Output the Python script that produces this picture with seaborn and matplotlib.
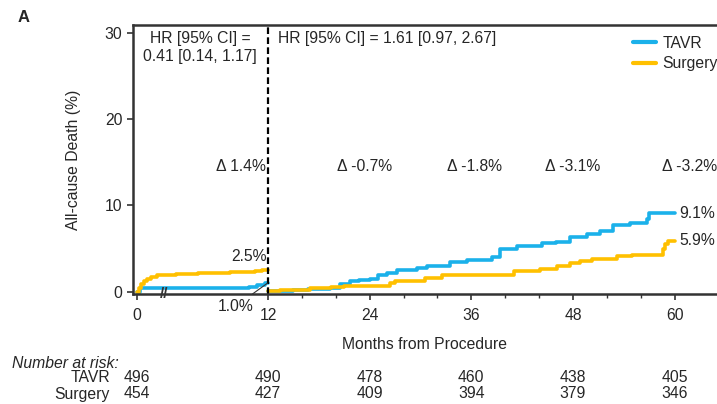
import numpy as np
import pandas as pd
import matplotlib
matplotlib.use("Agg")
import matplotlib.pyplot as plt
import matplotlib.transforms as mtransforms
from matplotlib.lines import Line2D
import seaborn as sns

# ---------------- data ----------------
tavr_early_t = [0, 0.3, 9.7, 10.3, 11.0, 11.7, 12]
tavr_early_v = [0, 0.4, 0.4, 0.6, 0.8, 1.0, 1.0]
surg_early_t = [0, 0.15, 0.35, 0.6, 0.9, 1.3, 1.8, 2.7, 3.6, 5.6, 8.5, 10.8, 11.5, 12]
surg_early_v = [0, 0.5, 0.9, 1.2, 1.5, 1.7, 1.9, 2.0, 2.1, 2.2, 2.3, 2.4, 2.5, 2.5]

tavr_late_t = [12, 14.9, 16.7, 19.3, 20.5, 21.7, 22.8, 24, 25, 26, 27.2, 29.6, 30.8,
               33.5, 35.5, 38.5, 39.4, 41.4, 44.4, 46, 47.6, 49.6, 51.2, 52.7, 54.7,
               56.7, 57.0, 60]
tavr_late_v = [0.1, 0.2, 0.35, 0.5, 0.9, 1.2, 1.4, 1.5, 1.9, 2.2, 2.5, 2.8, 3.0,
               3.4, 3.7, 4.0, 5.0, 5.3, 5.6, 5.8, 6.3, 6.7, 7.0, 7.7, 8.0,
               8.4, 9.1, 9.1]
surg_late_t = [12, 13.4, 17, 19.5, 21, 26.4, 27, 30.5, 32.6, 41.1, 44.1, 46.1, 47.6,
               48.8, 50.3, 53.2, 55, 58.6, 58.9, 59.2, 60]
surg_late_v = [0.1, 0.25, 0.45, 0.6, 0.7, 1.05, 1.3, 1.6, 1.9, 2.4, 2.6, 3.0, 3.3,
               3.6, 3.8, 4.1, 4.3, 5.0, 5.5, 5.9, 5.9]

arms = ["TAVR", "Surgery"]
colors = ["#1BB1EA", "#FFC000"]
x_ticks = [0, 12, 24, 36, 48, 60]
risk_tavr = [496, 490, 478, 460, 438, 405]
risk_surg = [454, 427, 409, 394, 379, 346]
delta_labels = ["\u0394 1.4%", "\u0394 -0.7%", "\u0394 -1.8%", "\u0394 -3.1%", "\u0394 -3.2%"]
delta_x = [11.8, 23.4, 36.4, 48.0, 61.8]
end_labels = ["9.1%", "5.9%"]

# ------------- build table -------------
rows = []
for t, v, arm, seg in [(tavr_early_t, tavr_early_v, "TAVR", "TAVR_e"),
                       (tavr_late_t, tavr_late_v, "TAVR", "TAVR_l"),
                       (surg_early_t, surg_early_v, "Surgery", "Surgery_e"),
                       (surg_late_t, surg_late_v, "Surgery", "Surgery_l")]:
    for ti, vi in zip(t, v):
        rows.append(dict(month=ti, pct=vi, arm=arm, seg=seg))
df = pd.DataFrame(rows)

# ------------- figure -------------
sns.set_style("white")
plt.rcParams["font.family"] = ["Liberation Sans", "DejaVu Sans"]
FS = 11.3

fig = plt.figure(figsize=(7.17, 4.04), dpi=100)
ax = fig.add_axes([133 / 717, (404 - 294) / 404, (717 - 133) / 717, (294 - 25) / 404])

A = 15.45 / 12.0


def fwd(x):
    x = np.asarray(x, dtype=float)
    return np.where(x <= 12, x * A, 12 * A + (x - 12))


def inv(y):
    y = np.asarray(y, dtype=float)
    return np.where(y <= 12 * A, y / A, y - 12 * A + 12)


ax.set_xscale("function", functions=(fwd, inv))

sns.lineplot(data=df, x="month", y="pct", hue="arm", units="seg", estimator=None,
             palette=dict(zip(arms, colors)), hue_order=arms, drawstyle="steps-post",
             linewidth=2.6, ax=ax, legend=False, sort=False)

ax.set_xlim(-0.37, 65)
ax.set_ylim(-0.25, 30.9)
ax.set_xticks(x_ticks)
ax.set_xticks([16, 20, 28, 32, 40, 44, 52, 56], minor=True)
ax.set_yticks([0, 10, 20, 30])
ax.tick_params(axis="both", which="major", direction="out", length=4, width=1.2,
               labelsize=FS, color="#333333", bottom=True, left=True)
ax.tick_params(axis="x", which="major", pad=6)
ax.tick_params(axis="x", which="minor", direction="out", length=3, width=1.0,
               color="#333333", bottom=True)
for s in ["left", "bottom", "top"]:
    ax.spines[s].set_color("#333333")
    ax.spines[s].set_linewidth(1.8)
ax.spines["right"].set_visible(False)

ax.set_xlabel("Months from Procedure", fontsize=FS, labelpad=10)
ax.set_ylabel("All-cause Death (%)", fontsize=FS, labelpad=17)

ax.axvline(12, color="black", linestyle=(0, (3, 1.5)), linewidth=1.6)

# legend
handles = [Line2D([], [], color=c, lw=3) for c in colors]
ax.legend(handles, arms, loc="upper left", bbox_to_anchor=(0.856, 0.96),
          frameon=False, fontsize=FS, handlelength=1.45, handletextpad=0.45,
          borderaxespad=0, borderpad=0, labelspacing=0.35)

# annotations
ax.text(5.8, 28.3, "HR [95% CI] =\n0.41 [0.14, 1.17]", ha="center", va="center",
        fontsize=FS, linespacing=1.3)
ax.text(13.2, 29.3, "HR [95% CI] = 1.61 [0.97, 2.67]", ha="left", va="center",
        fontsize=FS)
for lab, xx in zip(delta_labels, delta_x):
    ax.text(xx, 14.5, lab, ha="right" if xx < 12 else "center", va="center",
            fontsize=FS, clip_on=False)
ax.text(60.5, tavr_late_v[-1], end_labels[0], ha="left", va="center", fontsize=FS)
ax.text(60.5, surg_late_v[-1], end_labels[1], ha="left", va="center", fontsize=FS)
ax.text(11.9, surg_early_v[-1] + 0.7, "2.5%", ha="right", va="bottom", fontsize=FS)
ax.annotate("1.0%", xy=(11.95, tavr_early_v[-1]), xytext=(9.0, -1.7),
            ha="center", va="center", fontsize=FS, annotation_clip=False,
            arrowprops=dict(arrowstyle="-", color="#333333", lw=0.8,
                            shrinkA=2, shrinkB=0))
# axis break mark
ax.text(2.5, -0.2, "//", ha="center", va="center", fontsize=11, fontweight="bold",
        color="#333333", clip_on=False)

# panel letter
fig.text(18 / 717, 1 - 18 / 404, "A", fontsize=12, fontweight="bold", ha="left", va="center")

# number at risk
trans = mtransforms.blended_transform_factory(ax.transData, fig.transFigure)
fig.text(12 / 717, 1 - 363 / 404, "Number at risk:", fontsize=FS, style="italic",
         ha="left", va="center")
fig.text(110 / 717, 1 - 377 / 404, "TAVR", fontsize=FS, ha="right", va="center")
fig.text(110 / 717, 1 - 394 / 404, "Surgery", fontsize=FS, ha="right", va="center")
for xx, a, b in zip(x_ticks, risk_tavr, risk_surg):
    ax.text(xx, 1 - 377 / 404, str(a), transform=trans, ha="center", va="center",
            fontsize=FS, clip_on=False)
    ax.text(xx, 1 - 394 / 404, str(b), transform=trans, ha="center", va="center",
            fontsize=FS, clip_on=False)

fig.savefig("out.png", dpi=100)
